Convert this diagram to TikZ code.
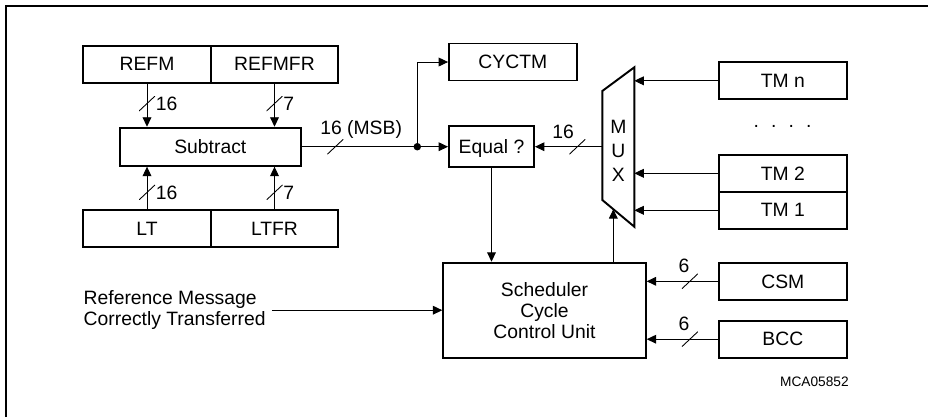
\documentclass[tikz,border=0pt]{standalone}
\usepackage{fontspec}
\setmainfont{Liberation Sans}
\usetikzlibrary{arrows.meta, calc}
\tikzset{
  lbl/.style      = {font=\fontsize{11}{12}\selectfont},
  slbl/.style     = {font=\fontsize{7.8}{9}\selectfont},
  regbox/.style   = {draw, line width=1.1pt, inner sep=0pt, text depth=0pt,
                     minimum width=2.55cm, minimum height=0.74cm, lbl},
  conn/.style     = {-{Triangle[length=5.4pt, width=5pt]}, line width=0.55pt},
  busslash/.style = {inner sep=0pt, minimum width=0.32cm, minimum height=0.3cm,
                     path picture={\draw[-, line width=0.5pt]
                       (path picture bounding box.south west) -- (path picture bounding box.north east);}},
  buslbl/.style   = {lbl, inner sep=0pt},
  junction/.style = {circle, fill=black, inner sep=0pt, minimum size=0.15cm},
  frameline/.style= {line width=0.6pt},
}
\begin{document}
\begin{tikzpicture}[x=0.02cm, y=-0.02cm]
  \useasboundingbox (0,0) rectangle (928,417);
  \draw[frameline] (6,417) -- (6,6) -- (928,6);
  % registers and units
  \node[regbox] (refm)   at (147,64.3)    {REFM};
  \node[regbox] (refmfr) at (274.5,64.3)  {REFMFR};
  \node[regbox] (lt)     at (147,228.7)   {LT};
  \node[regbox] (ltfr)   at (274.5,228.7) {LTFR};
  \node[regbox, minimum width=3.61cm, minimum height=0.76cm] (sub) at (210.3,146.7) {Subtract};
  \node[regbox] (cyctm)  at (512.8,62)    {CYCTM};
  \node[regbox, minimum width=1.7cm, minimum height=0.83cm] (equal) at (491.5,146.7) {Equal ?};
  \node[regbox] (tmn)    at (782.8,80.8)  {TM n};
  \node[lbl] (dots)      at (782.5,126.7) {.\hspace{0.63em}.\hspace{0.63em}.\hspace{0.63em}.};
  \node[regbox] (tm2)    at (782.8,173.3) {TM 2};
  \node[regbox] (tm1)    at (782.8,210.3) {TM 1};
  \node[regbox] (csm)    at (782.8,281.3) {CSM};
  \node[regbox] (bcc)    at (782.8,339.2) {BCC};
  \node[regbox, minimum width=4.05cm, minimum height=1.9cm, align=center] (sched) at (544.5,310.2)
    {Scheduler\\Cycle\\Control Unit};
  % multiplexer
  \coordinate (muxTL) at (602.3,91);
  \coordinate (muxTR) at (634.3,67.3);
  \coordinate (muxBR) at (634.3,226.7);
  \coordinate (muxBL) at (602.3,200);
  \draw[line width=1.1pt] (muxTL) -- (muxTR) -- (muxBR) -- (muxBL) -- cycle;
  \node[lbl, align=center, font=\fontsize{11}{13.6}\selectfont] (mux) at (618.3,151) {M\\U\\X};
  \coordinate (muxin) at ($(muxBL)!0.344!(muxBR)$);
  % connections
  \draw[conn] (refm.south) -- node[busslash, pos=0.46, label={[buslbl]right:16}] {} (refm.south |- sub.north);
  \draw[conn] (refmfr.south) -- node[busslash, pos=0.46, label={[buslbl]right:7}] {} (refmfr.south |- sub.north);
  \draw[conn] (lt.north) -- node[busslash, pos=0.395, label={[buslbl]right:16}] {} (lt.north |- sub.south);
  \draw[conn] (ltfr.north) -- node[busslash, pos=0.395, label={[buslbl]right:7}] {} (ltfr.north |- sub.south);
  \draw[conn] (sub.east) -- node[busslash, pos=0.231,
    label={[buslbl, anchor=south west, xshift=-0.14cm]north west:16 (MSB)}] {} (equal.west);
  \node[junction] (split) at (417.3,146.7) {};
  \draw[conn] (split.center) |- (cyctm.west);
  \draw[conn] (tmn.west) -- (tmn.west -| muxTR);
  \draw[conn] (tm2.west) -- (tm2.west -| muxTR);
  \draw[conn] (tm1.west) -- (tm1.west -| muxTR);
  \draw[conn] (muxTL |- equal.east) -- node[busslash, pos=0.37,
    label={[buslbl, anchor=south east, xshift=-0.06cm]north:16}] {} (equal.east);
  \draw[conn] (equal.south) -- (equal.south |- sched.north);
  \draw[conn] (sched.north -| muxin) -- (muxin);
  \node[lbl, align=left, anchor=west] (refmsg) at (77.5,310.2) {Reference Message\\Correctly Transferred};
  \draw[conn] (refmsg.east) -- (refmsg.east -| sched.west);
  \draw[conn] (csm.west) -- node[busslash, pos=0.396, label={[buslbl, anchor=south east]north:6}] {} (csm.west -| sched.east);
  \draw[conn] (bcc.west) -- node[busslash, pos=0.396, label={[buslbl, anchor=south east]north:6}] {} (bcc.west -| sched.east);
  \node[slbl, anchor=east, inner sep=0pt] (figid) at (849,381.7) {MCA05852};
\end{tikzpicture}
\end{document}
